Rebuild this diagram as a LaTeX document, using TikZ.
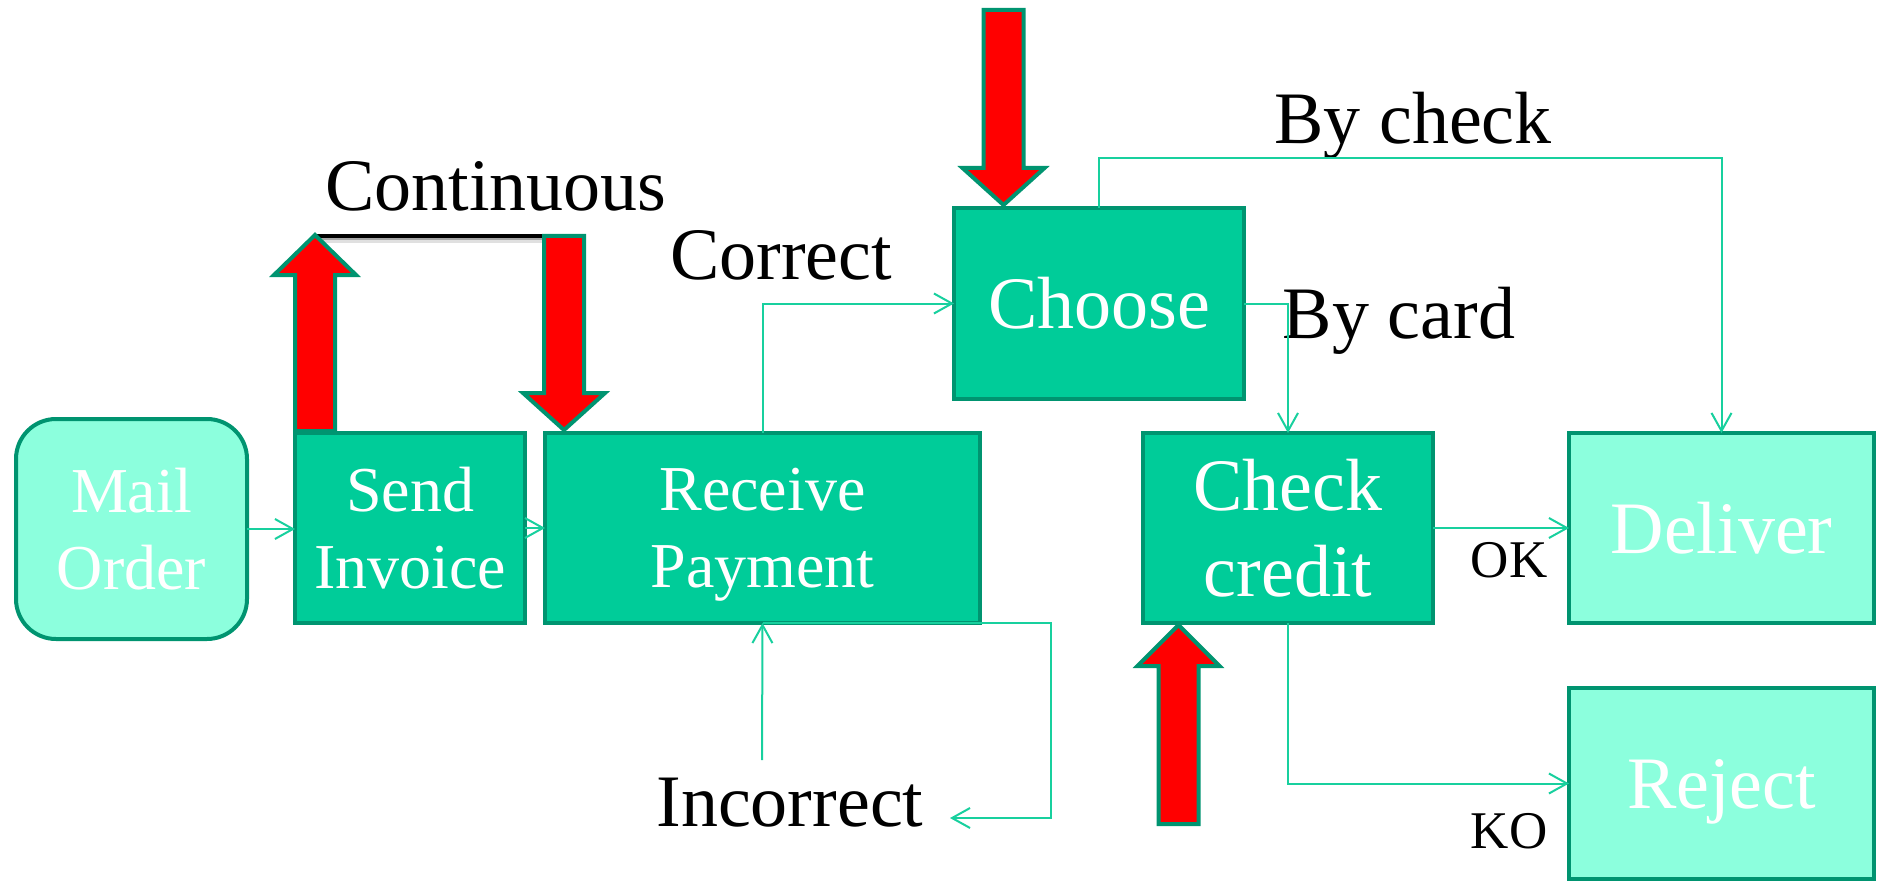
\documentclass[tikz,border=0pt]{standalone}
\usepackage{fontspec}
\setmainfont{Liberation Serif}
\usetikzlibrary{arrows.meta}
\definecolor{boxfill}{RGB}{0,204,153}
\definecolor{boxedge}{RGB}{0,148,112}
\definecolor{lightfill}{RGB}{140,255,221}
\definecolor{flow}{RGB}{24,208,158}
\definecolor{blockred}{RGB}{255,0,0}
% a word whose descender should not push the text upwards in its box
\newcommand{\nodepth}[1]{\raisebox{0pt}[\height][0pt]{#1}}
\begin{document}
\begin{tikzpicture}[x=0.5pt,y=-0.5pt,
  box/.style={draw=boxedge, line width=2pt, fill=boxfill, text=white,
    inner sep=0pt, outer sep=0pt, align=center},
  smallbox/.style={box, font=\fontsize{32}{38.5}\selectfont},
  bigbox/.style={box, font=\fontsize{37}{43}\selectfont},
  palebox/.style={bigbox, fill=lightfill},
  flowline/.style={draw=flow, line width=1pt, -{Straight Barb[length=9pt,width=10pt]}},
  tag/.style={font=\fontsize{37}{43}\selectfont, anchor=base, inner sep=0pt},
  smalltag/.style={font=\fontsize{26.5}{30}\selectfont, anchor=base, inner sep=0pt},
  blockarrow/.style={fill=blockred, draw=boxedge, line width=2pt, line join=miter}
]
\useasboundingbox (0,0) rectangle (1878,882);

% process boxes
\node[smallbox, rounded corners=20pt, fill=lightfill, minimum width=115.5pt, minimum height=110pt] (mail) at (131.5,529) {Mail\\Order};
\node[smallbox, minimum width=115pt, minimum height=95pt] (send) at (410,528) {Send\\Invoice};
\node[smallbox, minimum width=217.5pt, minimum height=95pt] (recv) at (762.5,528) {Receive\\\nodepth{Payment}};
\node[bigbox, minimum width=145pt, minimum height=95.5pt] (choose) at (1099,303.5) {Choose};
\node[bigbox, minimum width=145pt, minimum height=95pt] (check) at (1288,528) {Check\\credit};
\node[palebox, minimum width=152.5pt, minimum height=95pt] (deliver) at (1721.5,528) {Deliver};
\node[palebox, minimum width=152.5pt, minimum height=95.5pt] (reject) at (1721.5,783.5) {\nodepth{Reject}};

% labels
\node[tag] (continuous) at (496,211) {Continuous};
\node[tag] (correct) at (781,279) {Correct};
\node[tag] (bycheck) at (1413,144) {By check};
\node[tag] (bycard) at (1399,338) {By card};
\node[tag] (incorrect) at (790,826) {Incorrect};
\node[smalltag] (ok) at (1509,577) {OK};
\node[smalltag] (ko) at (1509,848) {KO};

% route helpers
\coordinate (checkrail) at (0,158);
\coordinate (incfoot) at (762,760);
\coordinate (loopcorner) at (1051,818);
\coordinate (looptip) at (950,818);

% flow connectors
\draw[flowline] (mail.east) -- (mail.east -| send.west);
\draw[flowline] (send.east) -- (recv.west);
\draw[flowline] (recv.north) |- (choose.west);
\draw[flowline] (choose.east) -| (check.north);
\draw[flowline] (choose.north) -- (choose.north |- checkrail) -| (deliver.north);
\draw[flowline] (check.east) -- (deliver.west);
\draw[flowline] (check.south) |- (reject.west);
\draw[flowline] (incfoot) -- (recv.south);
\draw[flowline] (recv.south) -| (loopcorner) -- (looptip);

% continuous link between the two event arrows, with a soft shadow
\draw[black!12, line width=2pt] (318,241) -- (542,241);
\draw[black!35, line width=1.5pt] (317,239) -- (542,239);
\draw[black, line width=2.3pt] (315,236) -- (544,236);

% red event arrows
\draw[blockarrow] (295,431) -- (295,275) -- (274,275) -- (315,235) -- (356,275) -- (335,275) -- (335,431) -- cycle;
\draw[blockarrow] (544,236) -- (544,393) -- (523,393) -- (564,430) -- (605,393) -- (584,393) -- (584,236) -- cycle;
\draw[blockarrow] (983.5,10) -- (983.5,168) -- (962.5,168) -- (1003.5,205) -- (1044.5,168) -- (1023.5,168) -- (1023.5,10) -- cycle;
\draw[blockarrow] (1158.5,824) -- (1158.5,666) -- (1137.5,666) -- (1178.5,625) -- (1219.5,666) -- (1198.5,666) -- (1198.5,824) -- cycle;
\end{tikzpicture}
\end{document}
